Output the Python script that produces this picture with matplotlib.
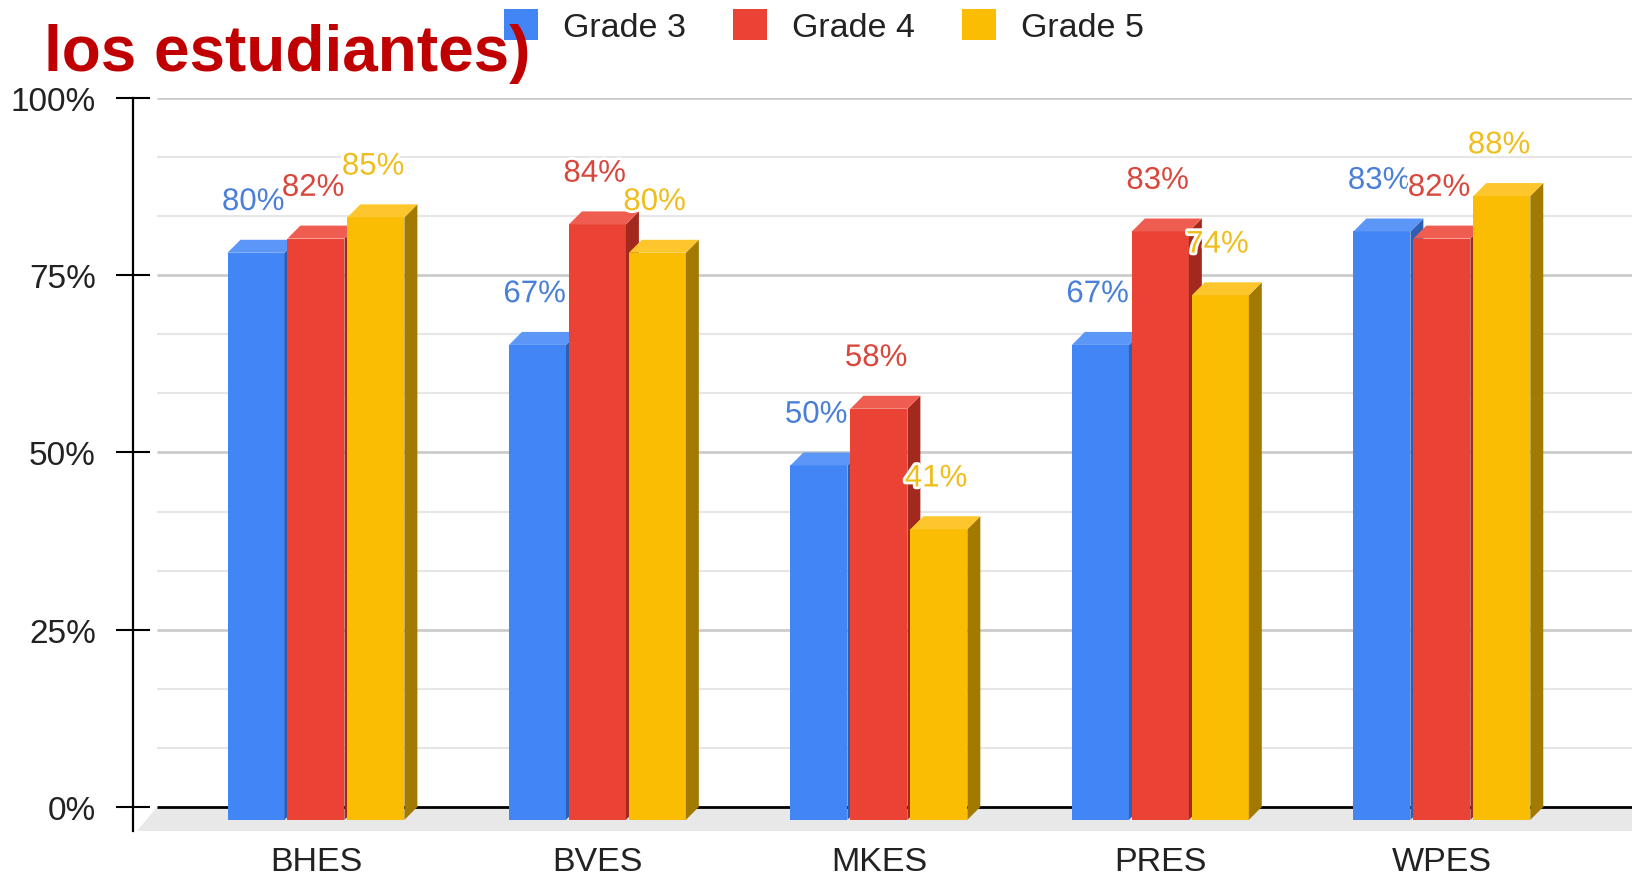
import matplotlib.pyplot as plt
from matplotlib.patches import Polygon, Patch
import matplotlib.patheffects as pe
import numpy as np

categories = ['BHES', 'BVES', 'MKES', 'PRES', 'WPES']
series = ['Grade 3', 'Grade 4', 'Grade 5']
grade3 = [80, 67, 50, 67, 83]
grade4 = [82, 84, 58, 83, 82]
grade5 = [85, 80, 41, 74, 88]
yticks = [0, 25, 50, 75, 100]
ytick_labels = ['0%', '25%', '50%', '75%', '100%']

front_c = ['#4285f4', '#ea4335', '#fbbc04']
top_c = ['#5c96f6', '#ee5d50', '#fcc62c']
side_c = ['#2f5fb3', '#a3281e', '#a37a00']
label_c = ['#4a7fd8', '#d9473c', '#efbe1c']

plt.rcParams['font.family'] = ['Liberation Sans', 'DejaVu Sans']

fig = plt.figure(figsize=(16.33, 8.79), dpi=100)
ax = fig.add_axes([133 / 1633, 47 / 879, 1500 / 1633, 733 / 879])
x_left, x_right = -0.650, 4.679
ax.set_xlim(x_left, x_right)
ax.set_ylim(-3.4, 100)

# fake 3d geometry
w = 0.2025
step = 0.213
dx = 0.046
dy = 1.83

# floor
ax.add_patch(Polygon([(-0.565, 0), (x_right, 0), (x_right, -3.4), (-0.636, -3.4)],
                     closed=True, facecolor='#e8e8e8', edgecolor='none', zorder=1))

# grid on the back wall
minor = [v for v in np.arange(0, 100, 25 / 3) if v not in yticks]
ax.hlines(minor, -0.565, x_right, color='#e6e6e6', lw=1.5, zorder=1.5)
ax.hlines(yticks[1:], -0.565, x_right, color='#cccccc', lw=2, zorder=1.5)
ax.hlines([0], -0.565, x_right, color='black', lw=2, zorder=2)

data = [grade3, grade4, grade5]
for i in range(len(categories)):
    for j, vals in enumerate(data):
        v = vals[i]
        xl = i + (j - 1) * step - w / 2
        ax.bar(xl, v, width=w, bottom=-dy, align='edge', color=front_c[j],
               edgecolor='none', zorder=3)
        ax.add_patch(Polygon([(xl + w, -dy), (xl + w + dx, 0), (xl + w + dx, v), (xl + w, v - dy)],
                             closed=True, facecolor=side_c[j], edgecolor='none', zorder=3))
        ax.add_patch(Polygon([(xl, v - dy), (xl + dx, v), (xl + w + dx, v), (xl + w, v - dy)],
                             closed=True, facecolor=top_c[j], edgecolor='none', zorder=3))
        ax.text(xl + w / 2 - 0.01, v + 4.2, f'{v}%', ha='center', va='baseline',
                fontsize=22.5, color=label_c[j], zorder=10,
                path_effects=[pe.withStroke(linewidth=4, foreground='white')])

ax.set_yticks(yticks, ytick_labels)
ax.tick_params(axis='y', direction='inout', length=24, width=1.5, color='black',
               labelsize=24, labelcolor='#222222', pad=14.8)
ax.set_xticks(range(len(categories)), categories)
ax.tick_params(axis='x', length=0, labelsize=24.5, labelcolor='#222222', pad=11)

for s in ['top', 'right', 'bottom']:
    ax.spines[s].set_visible(False)
ax.spines['left'].set_linewidth(1.6)
ax.spines['left'].set_color('black')

handles = [Patch(facecolor=c, edgecolor='none') for c in front_c]
fig.legend(handles, series, loc='center left', bbox_to_anchor=(504 / 1633, 1 - 27 / 879),
           ncol=3, frameon=False, fontsize=24.5, handlelength=1.0, handleheight=1.0,
           handletextpad=0.72, columnspacing=1.4, borderpad=0, borderaxespad=0,
           labelcolor='#222222')

fig.text(44 / 1633, 1 - 71 / 879, 'los estudiantes)', fontsize=46, fontweight='bold',
         color='#c00000', ha='left', va='baseline', zorder=10)

fig.savefig('out.png', dpi=100)
